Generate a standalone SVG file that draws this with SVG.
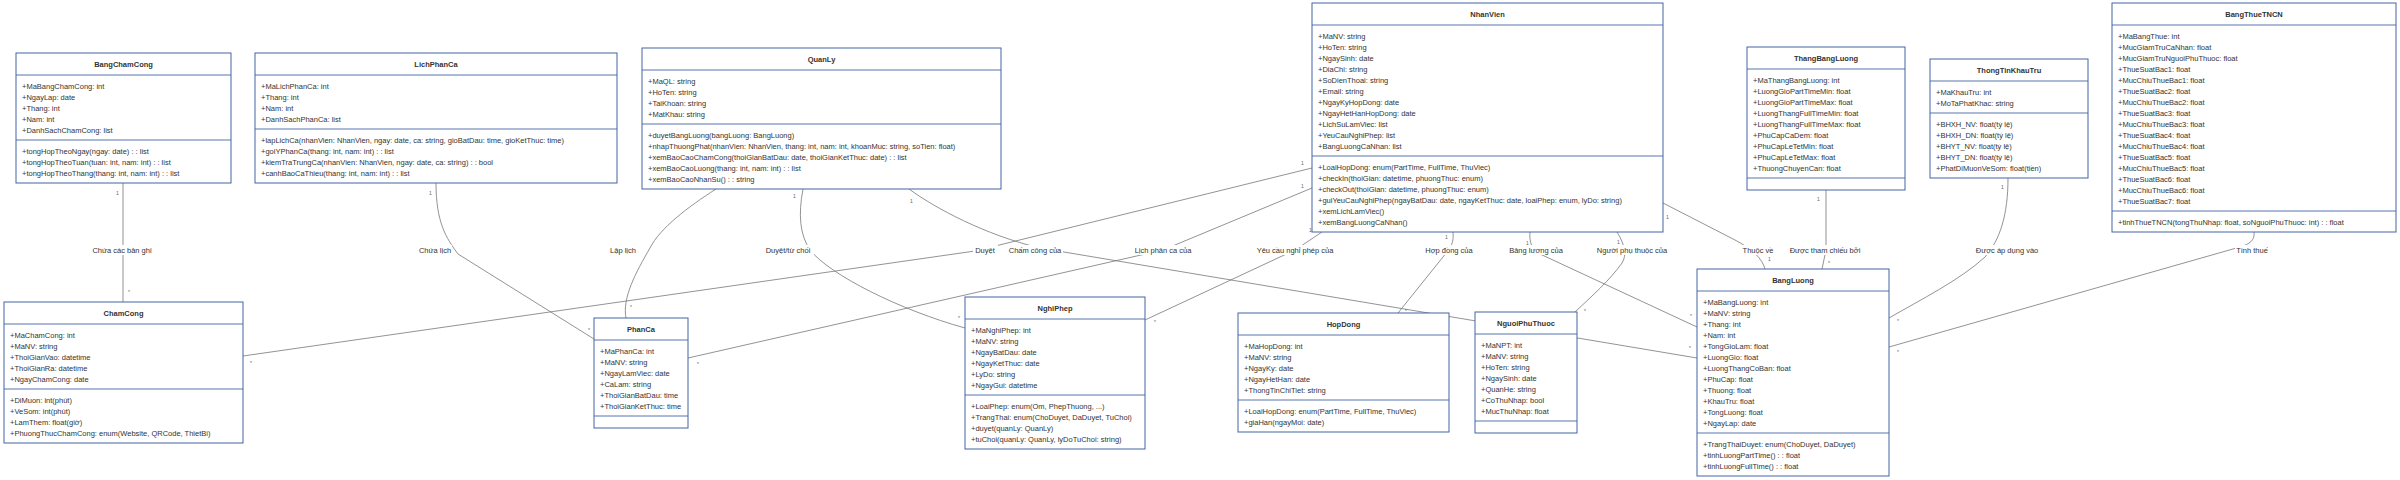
<svg xmlns="http://www.w3.org/2000/svg" width="2400" height="480" viewBox="0 0 2400 480">
<style>
.bx{fill:#fff;stroke:#4365a3;stroke-width:1}
.dv{stroke:#4365a3;stroke-width:0.9}
.t{font-family:"Liberation Sans",Arial,sans-serif;font-size:7.5px;fill:#333}
.h{font-weight:bold;text-anchor:middle}
.e{fill:none;stroke:#777;stroke-width:0.8}
.lb{fill:#fff}
.l{font-family:"Liberation Sans",Arial,sans-serif;font-size:7.5px;fill:#333;text-anchor:middle}
.c{font-family:"Liberation Sans",Arial,sans-serif;font-size:5px;fill:#666}
</style>
<rect width="2400" height="480" fill="#fff"/>
<g id="connectors">
<path class="e" d="M123,183 L123,302"/>
<path class="e" d="M436,183 C436,222 446,238 458,254 L594,339"/>
<path class="e" d="M716,189 C688,207 660,228 650,248 C636,272 622,298 626,318"/>
<path class="e" d="M803,189 C798,215 800,235 810,250 C830,275 900,310 965,328"/>
<path class="e" d="M909,189 C935,208 985,235 1040,248 L1697,358"/>
<path class="e" d="M243,356 L975,251 L1312,168"/>
<path class="e" d="M688,358 L1163,250 L1312,188"/>
<path class="e" d="M1145,320 L1295,250 L1322,232"/>
<path class="e" d="M1453,232 C1454,242 1451,247 1447,252 L1398,313"/>
<path class="e" d="M1530,232 C1529,242 1532,250 1540,254 L1697,327"/>
<path class="e" d="M1617,232 C1625,245 1627,255 1622,263 C1610,280 1592,296 1575,312"/>
<path class="e" d="M1663,203 L1735,240 C1752,249 1762,258 1765,269"/>
<path class="e" d="M1826,190 L1826,250 L1822,269"/>
<path class="e" d="M2008,178 C2008,215 2000,240 1985,257 C1960,280 1920,300 1889,318"/>
<path class="e" d="M2254,232 C2255,240 2250,244 2240,247 L1889,347"/>
<g id="edge-labels">
<rect class="lb" x="91" y="245" width="62" height="10"/><text class="l" x="122" y="252.7">Chứa các bản ghi</text>
<rect class="lb" x="418" y="245" width="34" height="10"/><text class="l" x="435" y="252.7">Chứa lịch</text>
<rect class="lb" x="609" y="245" width="29" height="10"/><text class="l" x="623" y="252.7">Lập lịch</text>
<rect class="lb" x="763" y="245" width="51" height="10"/><text class="l" x="788" y="252.7">Duyệt/từ chối</text>
<rect class="lb" x="973" y="245" width="25" height="10"/><text class="l" x="985" y="252.7">Duyệt</text>
<rect class="lb" x="1008" y="245" width="55" height="10"/><text class="l" x="1035" y="252.7">Chấm công của</text>
<rect class="lb" x="1133" y="245" width="60" height="10"/><text class="l" x="1163" y="252.7">Lịch phân ca của</text>
<rect class="lb" x="1254" y="245" width="82" height="10"/><text class="l" x="1295" y="252.7">Yêu cầu nghỉ phép của</text>
<rect class="lb" x="1424" y="245" width="50" height="10"/><text class="l" x="1449" y="252.7">Hợp đồng của</text>
<rect class="lb" x="1508" y="245" width="56" height="10"/><text class="l" x="1536" y="252.7">Bảng lương của</text>
<rect class="lb" x="1590" y="245" width="84" height="10"/><text class="l" x="1632" y="252.7">Người phụ thuộc của</text>
<rect class="lb" x="1742" y="245" width="32" height="10"/><text class="l" x="1758" y="252.7">Thuộc về</text>
<rect class="lb" x="1788" y="245" width="75" height="10"/><text class="l" x="1825" y="252.7">Được tham chiếu bởi</text>
<rect class="lb" x="1975" y="245" width="65" height="10"/><text class="l" x="2007" y="252.7">Được áp dụng vào</text>
<rect class="lb" x="2235" y="245" width="35" height="10"/><text class="l" x="2252" y="252.7">Tính thuế</text>
</g>
<g id="cardinalities" class="c">
<text x="116" y="195">1</text><text x="128" y="294">*</text>
<text x="429" y="195">1</text><text x="588" y="332">*</text>
<text x="630" y="309">*</text>
<text x="793" y="198">1</text><text x="958" y="320">*</text>
<text x="910" y="203">1</text><text x="1689" y="350">*</text>
<text x="250" y="365">*</text><text x="1301" y="165">1</text>
<text x="697" y="366">*</text><text x="1301" y="188">1</text>
<text x="1154" y="324">*</text><text x="1309" y="232">1</text>
<text x="1445" y="239">1</text><text x="1405" y="313">*</text>
<text x="1526" y="245">1</text><text x="1690" y="318">*</text>
<text x="1617" y="244">1</text><text x="1584" y="313">*</text>
<text x="1666" y="219">1</text><text x="1768" y="261">1</text>
<text x="1817" y="201">1</text><text x="1828" y="265">*</text>
<text x="2001" y="189">1</text><text x="1897" y="323">*</text>
<text x="1897" y="354">*</text>
</g>
</g>
<g id="BangChamCong">
<rect class="bx" x="16" y="53" width="215" height="130"/>
<line class="dv" x1="16" y1="75" x2="231" y2="75"/><line class="dv" x1="16" y1="140" x2="231" y2="140"/>
<text class="t h" x="123.5" y="66.7">BangChamCong</text>
<text class="t" y="88.7"><tspan x="22">+MaBangChamCong: int</tspan><tspan x="22" dy="11">+NgayLap: date</tspan><tspan x="22" dy="11">+Thang: int</tspan><tspan x="22" dy="11">+Nam: int</tspan><tspan x="22" dy="11">+DanhSachChamCong: list</tspan></text>
<text class="t" y="153.7"><tspan x="22">+tongHopTheoNgay(ngay: date) : : list</tspan><tspan x="22" dy="11">+tongHopTheoTuan(tuan: int, nam: int) : : list</tspan><tspan x="22" dy="11">+tongHopTheoThang(thang: int, nam: int) : : list</tspan></text>
</g>
<g id="LichPhanCa">
<rect class="bx" x="255" y="53" width="362" height="130"/>
<line class="dv" x1="255" y1="75" x2="617" y2="75"/><line class="dv" x1="255" y1="129" x2="617" y2="129"/>
<text class="t h" x="436" y="66.7">LichPhanCa</text>
<text class="t" y="88.7"><tspan x="261">+MaLichPhanCa: int</tspan><tspan x="261" dy="11">+Thang: int</tspan><tspan x="261" dy="11">+Nam: int</tspan><tspan x="261" dy="11">+DanhSachPhanCa: list</tspan></text>
<text class="t" y="142.7"><tspan x="261">+lapLichCa(nhanVien: NhanVien, ngay: date, ca: string, gioBatDau: time, gioKetThuc: time)</tspan><tspan x="261" dy="11">+goiYPhanCa(thang: int, nam: int) : : list</tspan><tspan x="261" dy="11">+kiemTraTrungCa(nhanVien: NhanVien, ngay: date, ca: string) : : bool</tspan><tspan x="261" dy="11">+canhBaoCaThieu(thang: int, nam: int) : : list</tspan></text>
</g>
<g id="QuanLy">
<rect class="bx" x="642" y="48" width="359" height="141"/>
<line class="dv" x1="642" y1="70" x2="1001" y2="70"/><line class="dv" x1="642" y1="124" x2="1001" y2="124"/>
<text class="t h" x="821.5" y="61.7">QuanLy</text>
<text class="t" y="83.7"><tspan x="648">+MaQL: string</tspan><tspan x="648" dy="11">+HoTen: string</tspan><tspan x="648" dy="11">+TaiKhoan: string</tspan><tspan x="648" dy="11">+MatKhau: string</tspan></text>
<text class="t" y="137.7"><tspan x="648">+duyetBangLuong(bangLuong: BangLuong)</tspan><tspan x="648" dy="11">+nhapThuongPhat(nhanVien: NhanVien, thang: int, nam: int, khoanMuc: string, soTien: float)</tspan><tspan x="648" dy="11">+xemBaoCaoChamCong(thoiGianBatDau: date, thoiGianKetThuc: date) : : list</tspan><tspan x="648" dy="11">+xemBaoCaoLuong(thang: int, nam: int) : : list</tspan><tspan x="648" dy="11">+xemBaoCaoNhanSu() : : string</tspan></text>
</g>
<g id="NhanVien">
<rect class="bx" x="1312" y="3" width="351" height="229"/>
<line class="dv" x1="1312" y1="25" x2="1663" y2="25"/><line class="dv" x1="1312" y1="156" x2="1663" y2="156"/>
<text class="t h" x="1487.5" y="16.7">NhanVien</text>
<text class="t" y="38.7"><tspan x="1318">+MaNV: string</tspan><tspan x="1318" dy="11">+HoTen: string</tspan><tspan x="1318" dy="11">+NgaySinh: date</tspan><tspan x="1318" dy="11">+DiaChi: string</tspan><tspan x="1318" dy="11">+SoDienThoai: string</tspan><tspan x="1318" dy="11">+Email: string</tspan><tspan x="1318" dy="11">+NgayKyHopDong: date</tspan><tspan x="1318" dy="11">+NgayHetHanHopDong: date</tspan><tspan x="1318" dy="11">+LichSuLamViec: list</tspan><tspan x="1318" dy="11">+YeuCauNghiPhep: list</tspan><tspan x="1318" dy="11">+BangLuongCaNhan: list</tspan></text>
<text class="t" y="169.7"><tspan x="1318">+LoaiHopDong: enum(PartTime, FullTime, ThuViec)</tspan><tspan x="1318" dy="11">+checkIn(thoiGian: datetime, phuongThuc: enum)</tspan><tspan x="1318" dy="11">+checkOut(thoiGian: datetime, phuongThuc: enum)</tspan><tspan x="1318" dy="11">+guiYeuCauNghiPhep(ngayBatDau: date, ngayKetThuc: date, loaiPhep: enum, lyDo: string)</tspan><tspan x="1318" dy="11">+xemLichLamViec()</tspan><tspan x="1318" dy="11">+xemBangLuongCaNhan()</tspan></text>
</g>
<g id="ThangBangLuong">
<rect class="bx" x="1747" y="47" width="158" height="143"/>
<line class="dv" x1="1747" y1="69" x2="1905" y2="69"/><line class="dv" x1="1747" y1="178" x2="1905" y2="178"/>
<text class="t h" x="1826" y="60.7">ThangBangLuong</text>
<text class="t" y="82.7"><tspan x="1753">+MaThangBangLuong: int</tspan><tspan x="1753" dy="11">+LuongGioPartTimeMin: float</tspan><tspan x="1753" dy="11">+LuongGioPartTimeMax: float</tspan><tspan x="1753" dy="11">+LuongThangFullTimeMin: float</tspan><tspan x="1753" dy="11">+LuongThangFullTimeMax: float</tspan><tspan x="1753" dy="11">+PhuCapCaDem: float</tspan><tspan x="1753" dy="11">+PhuCapLeTetMin: float</tspan><tspan x="1753" dy="11">+PhuCapLeTetMax: float</tspan><tspan x="1753" dy="11">+ThuongChuyenCan: float</tspan></text>
</g>
<g id="ThongTinKhauTru">
<rect class="bx" x="1930" y="59" width="158" height="119"/>
<line class="dv" x1="1930" y1="81" x2="2088" y2="81"/><line class="dv" x1="1930" y1="113" x2="2088" y2="113"/>
<text class="t h" x="2009" y="72.7">ThongTinKhauTru</text>
<text class="t" y="94.7"><tspan x="1936">+MaKhauTru: int</tspan><tspan x="1936" dy="11">+MoTaPhatKhac: string</tspan></text>
<text class="t" y="126.7"><tspan x="1936">+BHXH_NV: float(tỷ lệ)</tspan><tspan x="1936" dy="11">+BHXH_DN: float(tỷ lệ)</tspan><tspan x="1936" dy="11">+BHYT_NV: float(tỷ lệ)</tspan><tspan x="1936" dy="11">+BHYT_DN: float(tỷ lệ)</tspan><tspan x="1936" dy="11">+PhatDiMuonVeSom: float(tiền)</tspan></text>
</g>
<g id="BangThueTNCN">
<rect class="bx" x="2112" y="3" width="284" height="229"/>
<line class="dv" x1="2112" y1="25" x2="2396" y2="25"/><line class="dv" x1="2112" y1="211" x2="2396" y2="211"/>
<text class="t h" x="2254" y="16.7">BangThueTNCN</text>
<text class="t" y="38.7"><tspan x="2118">+MaBangThue: int</tspan><tspan x="2118" dy="11">+MucGiamTruCaNhan: float</tspan><tspan x="2118" dy="11">+MucGiamTruNguoiPhuThuoc: float</tspan><tspan x="2118" dy="11">+ThueSuatBac1: float</tspan><tspan x="2118" dy="11">+MucChiuThueBac1: float</tspan><tspan x="2118" dy="11">+ThueSuatBac2: float</tspan><tspan x="2118" dy="11">+MucChiuThueBac2: float</tspan><tspan x="2118" dy="11">+ThueSuatBac3: float</tspan><tspan x="2118" dy="11">+MucChiuThueBac3: float</tspan><tspan x="2118" dy="11">+ThueSuatBac4: float</tspan><tspan x="2118" dy="11">+MucChiuThueBac4: float</tspan><tspan x="2118" dy="11">+ThueSuatBac5: float</tspan><tspan x="2118" dy="11">+MucChiuThueBac5: float</tspan><tspan x="2118" dy="11">+ThueSuatBac6: float</tspan><tspan x="2118" dy="11">+MucChiuThueBac6: float</tspan><tspan x="2118" dy="11">+ThueSuatBac7: float</tspan></text>
<text class="t" x="2118" y="224.7">+tinhThueTNCN(tongThuNhap: float, soNguoiPhuThuoc: int) : : float</text>
</g>
<g id="ChamCong">
<rect class="bx" x="4" y="302" width="239" height="141"/>
<line class="dv" x1="4" y1="324" x2="243" y2="324"/><line class="dv" x1="4" y1="389" x2="243" y2="389"/>
<text class="t h" x="123.5" y="315.7">ChamCong</text>
<text class="t" y="337.7"><tspan x="10">+MaChamCong: int</tspan><tspan x="10" dy="11">+MaNV: string</tspan><tspan x="10" dy="11">+ThoiGianVao: datetime</tspan><tspan x="10" dy="11">+ThoiGianRa: datetime</tspan><tspan x="10" dy="11">+NgayChamCong: date</tspan></text>
<text class="t" y="402.7"><tspan x="10">+DiMuon: int(phút)</tspan><tspan x="10" dy="11">+VeSom: int(phút)</tspan><tspan x="10" dy="11">+LamThem: float(giờ)</tspan><tspan x="10" dy="11">+PhuongThucChamCong: enum(Website, QRCode, ThietBi)</tspan></text>
</g>
<g id="PhanCa">
<rect class="bx" x="594" y="318" width="94" height="110"/>
<line class="dv" x1="594" y1="340" x2="688" y2="340"/><line class="dv" x1="594" y1="416" x2="688" y2="416"/>
<text class="t h" x="641" y="331.7">PhanCa</text>
<text class="t" y="353.7"><tspan x="600">+MaPhanCa: int</tspan><tspan x="600" dy="11">+MaNV: string</tspan><tspan x="600" dy="11">+NgayLamViec: date</tspan><tspan x="600" dy="11">+CaLam: string</tspan><tspan x="600" dy="11">+ThoiGianBatDau: time</tspan><tspan x="600" dy="11">+ThoiGianKetThuc: time</tspan></text>
</g>
<g id="NghiPhep">
<rect class="bx" x="965" y="297" width="180" height="152"/>
<line class="dv" x1="965" y1="319" x2="1145" y2="319"/><line class="dv" x1="965" y1="395" x2="1145" y2="395"/>
<text class="t h" x="1055" y="310.7">NghiPhep</text>
<text class="t" y="332.7"><tspan x="971">+MaNghiPhep: int</tspan><tspan x="971" dy="11">+MaNV: string</tspan><tspan x="971" dy="11">+NgayBatDau: date</tspan><tspan x="971" dy="11">+NgayKetThuc: date</tspan><tspan x="971" dy="11">+LyDo: string</tspan><tspan x="971" dy="11">+NgayGui: datetime</tspan></text>
<text class="t" y="408.7"><tspan x="971">+LoaiPhep: enum(Om, PhepThuong, ...)</tspan><tspan x="971" dy="11">+TrangThai: enum(ChoDuyet, DaDuyet, TuChoi)</tspan><tspan x="971" dy="11">+duyet(quanLy: QuanLy)</tspan><tspan x="971" dy="11">+tuChoi(quanLy: QuanLy, lyDoTuChoi: string)</tspan></text>
</g>
<g id="HopDong">
<rect class="bx" x="1238" y="313" width="211" height="119"/>
<line class="dv" x1="1238" y1="335" x2="1449" y2="335"/><line class="dv" x1="1238" y1="400" x2="1449" y2="400"/>
<text class="t h" x="1343.5" y="326.7">HopDong</text>
<text class="t" y="348.7"><tspan x="1244">+MaHopDong: int</tspan><tspan x="1244" dy="11">+MaNV: string</tspan><tspan x="1244" dy="11">+NgayKy: date</tspan><tspan x="1244" dy="11">+NgayHetHan: date</tspan><tspan x="1244" dy="11">+ThongTinChiTiet: string</tspan></text>
<text class="t" y="413.7"><tspan x="1244">+LoaiHopDong: enum(PartTime, FullTime, ThuViec)</tspan><tspan x="1244" dy="11">+giaHan(ngayMoi: date)</tspan></text>
</g>
<g id="NguoiPhuThuoc">
<rect class="bx" x="1475" y="312" width="102" height="121"/>
<line class="dv" x1="1475" y1="334" x2="1577" y2="334"/><line class="dv" x1="1475" y1="421" x2="1577" y2="421"/>
<text class="t h" x="1526" y="325.7">NguoiPhuThuoc</text>
<text class="t" y="347.7"><tspan x="1481">+MaNPT: int</tspan><tspan x="1481" dy="11">+MaNV: string</tspan><tspan x="1481" dy="11">+HoTen: string</tspan><tspan x="1481" dy="11">+NgaySinh: date</tspan><tspan x="1481" dy="11">+QuanHe: string</tspan><tspan x="1481" dy="11">+CoThuNhap: bool</tspan><tspan x="1481" dy="11">+MucThuNhap: float</tspan></text>
</g>
<g id="BangLuong">
<rect class="bx" x="1697" y="269" width="192" height="207"/>
<line class="dv" x1="1697" y1="291" x2="1889" y2="291"/><line class="dv" x1="1697" y1="433" x2="1889" y2="433"/>
<text class="t h" x="1793" y="282.7">BangLuong</text>
<text class="t" y="304.7"><tspan x="1703">+MaBangLuong: int</tspan><tspan x="1703" dy="11">+MaNV: string</tspan><tspan x="1703" dy="11">+Thang: int</tspan><tspan x="1703" dy="11">+Nam: int</tspan><tspan x="1703" dy="11">+TongGioLam: float</tspan><tspan x="1703" dy="11">+LuongGio: float</tspan><tspan x="1703" dy="11">+LuongThangCoBan: float</tspan><tspan x="1703" dy="11">+PhuCap: float</tspan><tspan x="1703" dy="11">+Thuong: float</tspan><tspan x="1703" dy="11">+KhauTru: float</tspan><tspan x="1703" dy="11">+TongLuong: float</tspan><tspan x="1703" dy="11">+NgayLap: date</tspan></text>
<text class="t" y="446.7"><tspan x="1703">+TrangThaiDuyet: enum(ChoDuyet, DaDuyet)</tspan><tspan x="1703" dy="11">+tinhLuongPartTime() : : float</tspan><tspan x="1703" dy="11">+tinhLuongFullTime() : : float</tspan></text>
</g>
</svg>
